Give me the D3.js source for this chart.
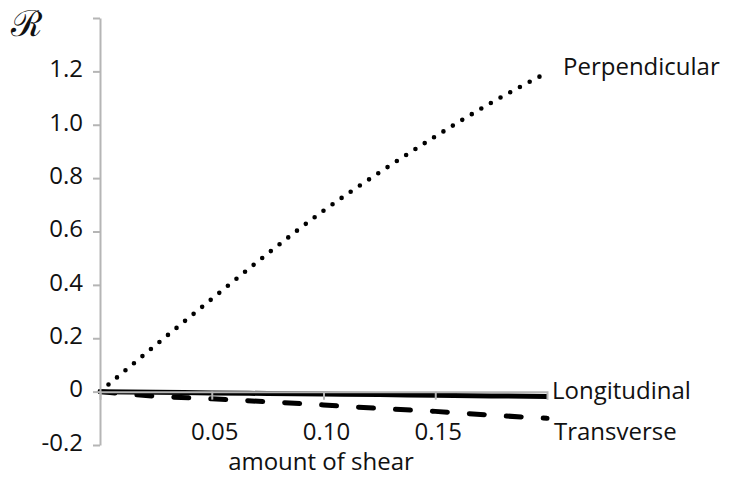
<!DOCTYPE html>
<html>
<head>
<meta charset="utf-8">
<script src="https://cdn.jsdelivr.net/npm/d3@7"></script>
<style>
  body { margin: 0; background: #fff; }
  svg text { font-family: "Open Sans", sans-serif; fill: #111; }
</style>
</head>
<body>
<div id="chart"></div>
<script>
// Data
const shear = [0, 0.025, 0.05, 0.075, 0.1, 0.125, 0.15, 0.175, 0.2];
const perpendicular = [0, 0.175, 0.347, 0.517, 0.678, 0.821, 0.956, 1.082, 1.195];
const longitudinal = [0, -0.002, -0.005, -0.007, -0.009, -0.011, -0.014, -0.016, -0.018];
const transverse = [0, -0.017, -0.027, -0.038, -0.050, -0.063, -0.074, -0.088, -0.1];

const xTicks = [0.05, 0.10, 0.15];
const yTicks = [-0.2, 0, 0.2, 0.4, 0.6, 0.8, 1.0, 1.2, 1.4];
const yLabels = ['-0.2', '0', '0.2', '0.4', '0.6', '0.8', '1.0', '1.2', ''];

const seriesNames = ['Perpendicular', 'Longitudinal', 'Transverse'];

const width = 731;
const height = 477;

const svg = d3.select('#chart')
  .append('svg')
  .attr('width', width)
  .attr('height', height);

// Scales
const xScale = d3.scaleLinear().domain([0, 0.2]).range([100, 547]);
const yScale = d3.scaleLinear().domain([-0.2, 1.4]).range([445, 18]);

const line = d3.line()
  .x((d, i) => xScale(shear[i]))
  .y(d => yScale(d))
  .curve(d3.curveMonotoneX);

// Longitudinal - thick solid
svg.append('path')
  .datum(longitudinal)
  .attr('d', line)
  .attr('fill', 'none')
  .attr('stroke', '#000')
  .attr('stroke-width', 5);

// Transverse - thick dashes
svg.append('path')
  .datum(transverse)
  .attr('d', line)
  .attr('fill', 'none')
  .attr('stroke', '#000')
  .attr('stroke-width', 5)
  .attr('stroke-linecap', 'round')
  .attr('stroke-dasharray', '15,22');

// Perpendicular - round dots
svg.append('path')
  .datum(perpendicular)
  .attr('d', line)
  .attr('fill', 'none')
  .attr('stroke', '#000')
  .attr('stroke-width', 4.6)
  .attr('stroke-linecap', 'round')
  .attr('stroke-dasharray', '0,11.06');

// X axis at R = 0
const xAxis = svg.append('g')
  .attr('transform', `translate(0,${yScale(0)})`)
  .call(d3.axisBottom(xScale)
    .tickValues(xTicks)
    .tickSize(8)
    .tickSizeOuter(8)
    .tickPadding(23)
    .tickFormat(d3.format('.2f')));

xAxis.selectAll('text')
  .style('font-size', '24px')
  .attr('dx', '0.1em');

// Y axis
const yAxis = svg.append('g')
  .attr('transform', `translate(${xScale(0)},0)`)
  .call(d3.axisLeft(yScale)
    .tickValues(yTicks)
    .tickSize(7)
    .tickSizeOuter(0)
    .tickPadding(10)
    .tickFormat((d, i) => yLabels[i]));

yAxis.selectAll('text')
  .style('font-size', '24px')
  .attr('dy', '0.22em');

svg.selectAll('.domain, .tick line')
  .attr('stroke', '#b5b5b5')
  .attr('stroke-width', 2);

// Axis titles
svg.append('text')
  .attr('x', 321)
  .attr('y', 470)
  .attr('text-anchor', 'middle')
  .style('font-size', '24px')
  .text('amount of shear');

svg.append('text')
  .attr('x', 11)
  .attr('y', 36)
  .style('font-family', '"DejaVu Serif", serif')
  .style('font-size', '36px')
  .text('ℛ');

// Series labels at the right end
const labelPos = [
  { x: 563, y: 75 },
  { x: 552, y: 399 },
  { x: 554, y: 440 }
];

svg.selectAll('.series-label')
  .data(seriesNames)
  .enter()
  .append('text')
  .attr('class', 'series-label')
  .attr('x', (d, i) => labelPos[i].x)
  .attr('y', (d, i) => labelPos[i].y)
  .style('font-size', '24px')
  .text(d => d);
</script>
</body>
</html>
